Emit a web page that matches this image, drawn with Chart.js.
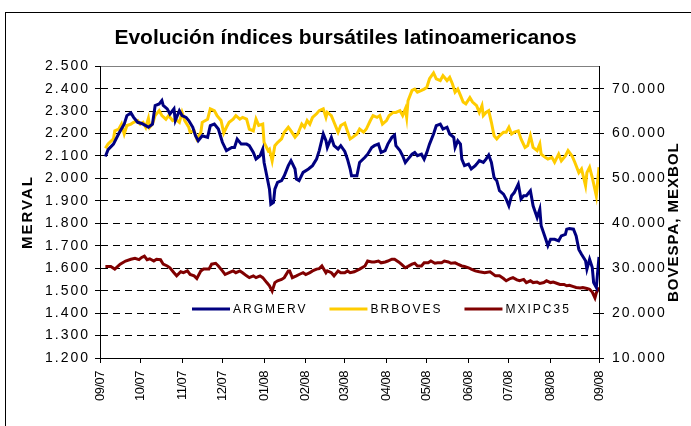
<!DOCTYPE html>
<html>
<head>
<meta charset="utf-8">
<script src="https://cdn.jsdelivr.net/npm/chart.js@4.4.0/dist/chart.umd.min.js"></script>
<style>
  html, body { margin: 0; padding: 0; background: #fff; }
</style>
</head>
<body>
<canvas id="chart" width="691" height="426"></canvas>
<script>
// x axis: days since 1 Sep 2007, month ticks
const monthDays = [0, 30, 61, 91, 122, 153, 182, 213, 243, 274, 304, 335, 371];
const monthLabels = ['09/07', '10/07', '11/07', '12/07', '01/08', '02/08', '03/08',
                     '04/08', '05/08', '06/08', '07/08', '08/08', '09/08'];
const rightTicks = [10000, 20000, 30000, 40000, 50000, 60000, 70000];

// MERVAL (left axis)
const argDays = [4,6,10,14,18,20,23,25,28,31,
  34,36,39,41,44,46,47,50,52,55,
  56,59,61,64,66,69,71,73,76,80,
  82,85,88,91,94,98,100,102,105,109,
  111,114,116,119,121,122,124,126,127,129,
  130,132,135,137,140,142,145,146,148,151,
  155,158,161,163,166,168,169,172,174,177,
  179,182,184,186,187,191,193,197,199,202,
  204,207,209,212,214,217,219,220,223,225,
  227,229,232,234,236,239,241,243,245,248,
  250,253,255,258,260,263,264,266,268,269,
  271,274,276,279,280,282,285,287,289,291,
  293,295,297,300,302,304,306,308,311,313,
  315,317,320,322,325,327,328,331,333,335,
  338,341,343,346,347,349,352,354,356,358,
  361,362,364,366,367,369,371];
const argValues = [2098,2128,2153,2200,2242,2280,2292,2272,2250,2245,
  2235,2228,2242,2325,2332,2347,2325,2310,2287,2310,
  2258,2302,2280,2272,2258,2228,2190,2168,2190,2183,
  2235,2242,2220,2161,2124,2138,2138,2175,2153,2153,
  2146,2116,2086,2101,2131,2071,2012,1952,1885,1893,
  1952,1982,1990,2012,2057,2079,2042,1997,1990,2027,
  2042,2057,2086,2124,2198,2168,2138,2183,2146,2131,
  2146,2120,2086,2042,2012,2012,2071,2094,2108,2138,
  2146,2153,2116,2124,2153,2183,2193,2146,2124,2101,
  2071,2086,2108,2116,2101,2108,2086,2116,2153,2198,
  2235,2242,2220,2228,2198,2183,2138,2168,2153,2086,
  2057,2064,2042,2057,2064,2079,2071,2086,2104,2071,
  2004,1990,1945,1930,1908,1878,1923,1937,1975,1908,
  1923,1923,1945,1878,1826,1863,1789,1737,1700,1729,
  1729,1722,1744,1751,1774,1777,1774,1744,1684,1662,
  1633,1596,1640,1603,1536,1514,1650];

// BOVESPA (right axis)
const bovDays = [4,6,10,11,14,16,18,20,23,25,
  28,30,32,34,36,37,39,41,44,46,
  49,51,54,56,59,61,63,66,67,70,
  72,75,76,80,82,85,87,90,92,94,
  96,99,101,104,106,109,111,114,116,118,
  121,122,125,126,128,130,132,135,137,140,
  142,145,147,150,152,154,156,158,161,163,
  166,168,169,172,174,177,179,182,184,186,
  188,191,193,196,198,201,203,206,208,210,
  213,215,218,220,223,225,227,228,229,232,
  234,236,239,241,243,245,248,250,253,255,
  258,260,262,264,266,268,270,272,275,277,
  280,282,284,285,287,289,291,293,295,297,
  300,302,304,306,308,311,313,316,318,320,
  322,325,327,328,331,333,336,338,341,343,
  346,348,351,353,356,358,361,362,364,366,
  369,371];
const bovValues = [56700,57700,58800,60600,61000,62100,59900,61800,62100,62500,
  62900,62100,62500,61400,63400,61400,62100,64000,65100,64000,
  63200,64000,62900,63200,62500,64700,62900,61400,60300,60600,
  58800,60300,62500,63200,65500,65100,64000,62900,60100,61400,
  62500,63200,64000,63200,63600,63200,61000,60600,63200,61800,
  62100,58000,56200,56500,53900,57300,58000,58800,60300,61400,
  60600,59200,59900,62100,61400,62900,62100,63600,64400,65100,
  65500,63600,64700,64000,62500,60300,61800,62300,60500,58800,
  59200,59900,61000,60300,61000,62900,64000,63600,64000,62100,
  62900,64000,64700,64700,65100,64000,65500,63600,67300,69600,
  69900,69200,69600,69900,70300,72200,73500,72200,71800,72900,
  71800,72500,71100,69200,69900,68500,67000,66600,68000,67000,
  66200,64700,66200,64000,64700,65100,62500,59500,58800,59500,
  60300,60300,61400,59900,60300,60600,58800,56900,57300,59500,
  56900,56200,57700,55400,54700,54300,54700,53600,55400,53900,
  55000,56200,55000,53600,51300,52100,48400,51300,52500,50200,
  46100,52500];

// MEXBOL (right axis)
const mexDays = [4,8,11,15,19,23,26,29,31,33,
  35,37,40,42,45,47,50,52,55,57,
  60,62,65,67,70,72,75,77,81,83,
  86,88,91,93,96,99,101,104,106,109,
  111,114,116,119,121,124,126,128,130,132,
  135,137,140,141,143,146,148,151,153,156,
  158,161,163,165,168,169,172,174,177,179,
  182,184,186,189,193,197,199,202,204,207,
  209,212,214,217,219,222,224,227,229,232,
  234,236,239,241,244,246,249,251,254,256,
  259,261,264,266,269,271,274,276,279,282,
  286,290,294,297,300,302,305,307,310,312,
  315,317,320,322,325,327,330,332,335,337,
  340,342,345,347,349,352,354,357,359,362,
  364,366,368,369,371];
const mexValues = [30400,30400,29800,30900,31600,32000,32200,31900,32400,32700,
  31900,32100,31600,32000,31900,30900,30500,30100,29000,28300,
  29200,29000,29400,28600,28300,27700,29400,29800,29800,30900,
  31100,30500,29400,28600,29000,29400,29000,29400,29000,28300,
  27900,28300,27900,28300,27900,26800,26100,24900,26800,27200,
  27500,27900,29400,29400,27900,28300,28600,29000,28600,29000,
  29400,29800,29900,30500,29000,29400,29000,28300,29400,29000,
  29000,29400,29000,29200,29800,30500,31600,31400,31400,31600,
  31200,31400,31600,32000,32000,31400,30900,30100,30400,30900,
  31100,30500,30500,31200,31200,31600,31100,31200,31200,31600,
  31400,31100,31200,30900,30500,30400,30100,29800,29400,29200,
  29000,29200,28300,28300,27700,27200,27700,27900,27400,27200,
  27500,26800,27200,26800,26900,26600,26800,27200,26800,26900,
  26600,26400,26400,26100,26200,25900,25700,25600,25700,25500,
  25300,24700,23400,24500,25700];

const FONT = "'Liberation Sans', Arial, sans-serif";
Chart.defaults.font.family = FONT;
Chart.defaults.color = '#000';

// 2500 -> "2.500"
const fmt = v => Math.round(v).toString().replace(/\B(?=(\d{3})+(?!\d))/g, '.');
const toPoints = (days, vals) => days.map((d, i) => ({x: d, y: vals[i]}));

// run a scale draw method with other letter spacing (the excel export looks spaced out)
const spaced = (fn, spacing) => function (...args) {
  this.ctx.save();
  this.ctx.letterSpacing = spacing;
  fn.apply(this, args);
  this.ctx.restore();
};

// border, right axis title and the in-plot legend
const extras = {
  id: 'extras',
  beforeDraw(chart) {
    const {x, y, y2} = chart.scales;
    if (!y._spaced) {
      y.drawLabels = spaced(y.drawLabels, '2px');
      y.drawTitle = spaced(y.drawTitle, '2px');
      y._spaced = true;
    }
    if (!y2._spaced) {
      y2.drawLabels = spaced(y2.drawLabels, '2px');
      y2._spaced = true;
    }
    if (!x._spaced) {
      x.drawLabels = spaced(x.drawLabels, '-0.5px');
      x._spaced = true;
    }
  },
  afterDraw(chart) {
    const ctx = chart.ctx;
    const area = chart.chartArea;
    ctx.save();

    // outer frame
    ctx.strokeStyle = '#000';
    ctx.lineWidth = 1;
    ctx.strokeRect(5.5, 12.5, 800, 800);

    // right axis title, reads bottom to top
    ctx.font = 'bold 15px ' + FONT;
    ctx.letterSpacing = '1px';
    ctx.textAlign = 'center';
    ctx.textBaseline = 'middle';
    ctx.translate(674, (area.top + area.bottom) / 2 + 10);
    ctx.rotate(-Math.PI / 2);
    ctx.fillText('BOVESPA, MEXBOL', 0, 0);
    ctx.restore();

    // legend inside the plot
    ctx.save();
    const ly = 309;
    ctx.fillStyle = '#fff';
    ctx.fillRect(180, ly - 10, 412, 20);
    ctx.font = '12px ' + FONT;
    ctx.letterSpacing = '2px';
    ctx.textBaseline = 'middle';
    ctx.textAlign = 'left';
    let lx = 192;
    chart.data.datasets.forEach(ds => {
      ctx.strokeStyle = ds.borderColor;
      ctx.lineWidth = 3;
      ctx.beginPath();
      ctx.moveTo(lx, ly);
      ctx.lineTo(lx + 38, ly);
      ctx.stroke();
      ctx.fillStyle = '#000';
      ctx.fillText(ds.label, lx + 41, ly + 1);
      lx += 41 + ctx.measureText(ds.label).width + 22;
    });
    ctx.restore();
  }
};

new Chart(document.getElementById('chart'), {
  type: 'line',
  data: {
    datasets: [
      { label: 'ARGMERV', data: toPoints(argDays, argValues), yAxisID: 'y',
        borderColor: '#000080' },
      { label: 'BRBOVES', data: toPoints(bovDays, bovValues), yAxisID: 'y2',
        borderColor: '#FFCC00' },
      { label: 'MXIPC35', data: toPoints(mexDays, mexValues), yAxisID: 'y2',
        borderColor: '#800000' }
    ]
  },
  options: {
    responsive: false,
    animation: false,
    devicePixelRatio: 1,
    layout: { padding: 0 },
    elements: {
      point: { radius: 0 },
      line: { borderWidth: 3, tension: 0, fill: false }
    },
    plugins: {
      legend: { display: false },
      tooltip: { enabled: false },
      title: {
        display: true,
        text: 'Evolución índices bursátiles latinoamericanos',
        font: { size: 21, weight: 'bold' },
        color: '#000',
        padding: { top: 26, bottom: 15 }
      }
    },
    scales: {
      x: {
        type: 'linear',
        min: 0,
        max: 371,
        afterBuildTicks: axis => { axis.ticks = monthDays.map(v => ({value: v})); },
        afterFit: axis => { axis.height = 68; },
        ticks: {
          autoSkip: false,
          minRotation: 90,
          maxRotation: 90,
          padding: 8,
          font: { size: 13 },
          callback: v => monthLabels[monthDays.indexOf(v)]
        },
        grid: { drawOnChartArea: false, tickLength: 5, color: '#000' },
        border: { color: '#000' }
      },
      y: {
        position: 'left',
        min: 1200,
        max: 2500,
        afterFit: axis => { axis.width = 100; },
        ticks: { stepSize: 100, padding: 5, font: { size: 14 }, callback: fmt },
        title: {
          display: true,
          text: 'MERVAL',
          font: { size: 15, weight: 'bold' },
          padding: { top: 19, bottom: 0 }
        },
        grid: {
          tickLength: 5,
          tickColor: '#000',
          color: c => c.tick.value === 2500 ? '#808080'
                    : c.tick.value === 1200 ? 'rgba(0,0,0,0)' : '#000'
        },
        border: {
          color: '#000',
          dash: c => (c.tick && c.tick.value !== 2500) ? [7, 5] : []
        }
      },
      y2: {
        position: 'right',
        min: 10000,
        max: 75000,
        afterBuildTicks: axis => { axis.ticks = rightTicks.map(v => ({value: v})); },
        afterFit: axis => { axis.width = 92; },
        ticks: { padding: 8, font: { size: 14 }, callback: fmt },
        grid: { drawOnChartArea: false, tickLength: 5, color: '#000' },
        border: { color: '#000' }
      }
    }
  },
  plugins: [extras]
});
</script>
</body>
</html>
